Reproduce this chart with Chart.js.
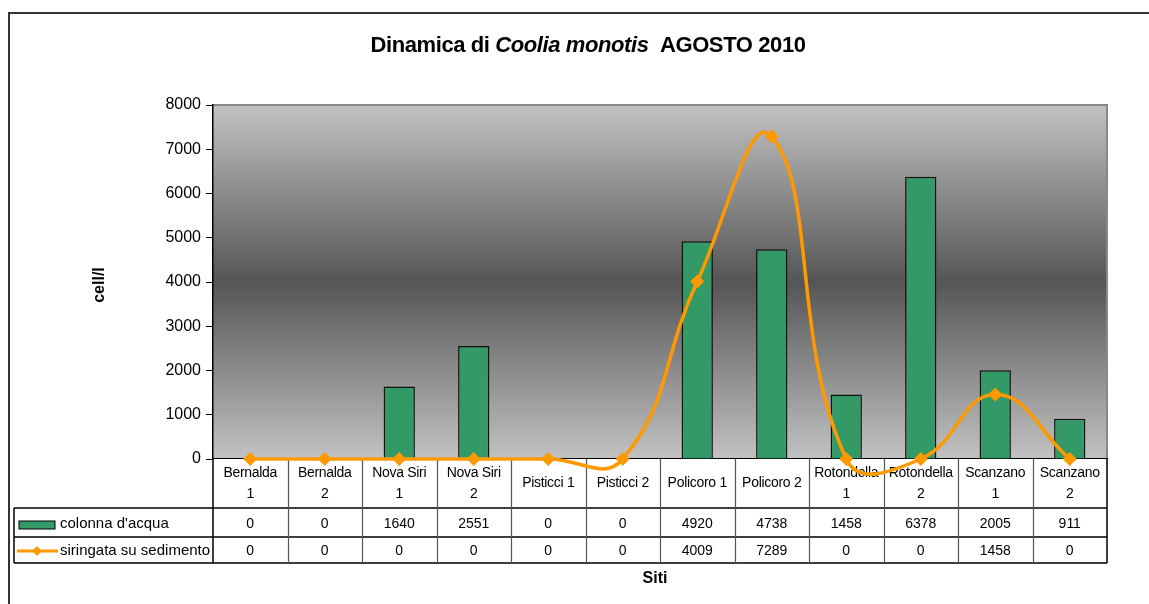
<!DOCTYPE html>
<html>
<head>
<meta charset="utf-8">
<script src="https://cdn.jsdelivr.net/npm/chart.js@4/dist/chart.umd.min.js"></script>
<style>
  html, body { margin: 0; padding: 0; background: #fff; }
</style>
</head>
<body>
<canvas id="siteChart" width="1149" height="604"></canvas>
<script>
// data
var sites = [["Bernalda", "1"], ["Bernalda", "2"], ["Nova Siri", "1"], ["Nova Siri", "2"],
  ["Pisticci 1"], ["Pisticci 2"], ["Policoro 1"], ["Policoro 2"],
  ["Rotondella", "1"], ["Rotondella", "2"], ["Scanzano", "1"], ["Scanzano", "2"]];
var colonna = [0, 0, 1640, 2551, 0, 0, 4920, 4738, 1458, 6378, 2005, 911];
var siringata = [0, 0, 0, 0, 0, 0, 4009, 7289, 0, 0, 1458, 0];
var seriesNames = ["colonna d'acqua", "siringata su sedimento"];
var yMax = 8000;
var yStep = 1000;

var FONT = "'Liberation Sans', Arial, sans-serif";
var GREEN = "#339966";
var ORANGE = "#FF9900";

// background gradient, frame, title, axis title and the data table
var decor = {
  id: 'decor',
  beforeDraw: function (chart) {
    var ctx = chart.ctx, a = chart.chartArea;
    ctx.save();
    var g = ctx.createLinearGradient(0, a.top, 0, a.bottom);
    g.addColorStop(0, "#c2c2c2");
    g.addColorStop(0.5, "#555555");
    g.addColorStop(1, "#c2c2c2");
    ctx.fillStyle = g;
    ctx.fillRect(a.left, a.top, a.right - a.left, a.bottom - a.top);
    ctx.strokeStyle = "#888";
    ctx.lineWidth = 2;
    ctx.beginPath();
    ctx.moveTo(a.left, a.top);
    ctx.lineTo(a.right, a.top);
    ctx.lineTo(a.right, a.bottom);
    ctx.stroke();

    // outer frame
    ctx.strokeStyle = "#333";
    ctx.lineWidth = 2;
    ctx.beginPath();
    ctx.moveTo(9, 604);
    ctx.lineTo(9, 13);
    ctx.lineTo(1149, 13);
    ctx.stroke();

    // title with italic species name
    var parts = [["Dinamica di ", "bold"], ["Coolia monotis", "italic bold"], ["  AGOSTO 2010", "bold"]];
    ctx.letterSpacing = "-0.4px";
    var total = 0;
    parts.forEach(function (p) {
      ctx.font = p[1] + " 22px " + FONT;
      total += ctx.measureText(p[0]).width;
    });
    var x = 588 - total / 2;
    ctx.fillStyle = "#000";
    ctx.textBaseline = "middle";
    ctx.textAlign = "left";
    parts.forEach(function (p) {
      ctx.font = p[1] + " 22px " + FONT;
      ctx.fillText(p[0], x, 46);
      x += ctx.measureText(p[0]).width;
    });
    ctx.letterSpacing = "0px";

    // y axis title
    ctx.save();
    ctx.translate(100, 285);
    ctx.rotate(-Math.PI / 2);
    ctx.font = "bold 16px " + FONT;
    ctx.textAlign = "center";
    ctx.fillText("cell/l", 0, 0);
    ctx.restore();

    // x axis title
    ctx.font = "bold 16px " + FONT;
    ctx.textAlign = "center";
    ctx.fillText("Siti", 655, 579);
    ctx.restore();
  },
  beforeDatasetsDraw: function (chart) {
    var ctx = chart.ctx, a = chart.chartArea, xs = chart.scales.x;
    var n = sites.length;
    var w = (a.right - a.left) / n;
    var top = a.bottom, r1 = 508, r2 = 537, bot = 563, legL = 14;
    ctx.save();
    ctx.fillStyle = "#fff";
    ctx.fillRect(a.left, top, a.right - a.left, bot - top);

    ctx.strokeStyle = "#000";
    ctx.lineWidth = 1.5;
    ctx.beginPath();
    ctx.moveTo(legL, r1); ctx.lineTo(a.right, r1);
    ctx.moveTo(legL, r2); ctx.lineTo(a.right, r2);
    ctx.moveTo(legL, bot); ctx.lineTo(a.right, bot);
    ctx.moveTo(legL, r1); ctx.lineTo(legL, bot);
    ctx.moveTo(a.left, top); ctx.lineTo(a.left, bot);
    ctx.moveTo(a.right, top); ctx.lineTo(a.right, bot);
    ctx.stroke();
    ctx.strokeStyle = "#555";
    ctx.lineWidth = 1.2;
    ctx.beginPath();
    for (var i = 1; i < n; i++) {
      var bx = Math.round(a.left + i * w) + 0.5;
      ctx.moveTo(bx, top); ctx.lineTo(bx, bot);
    }
    ctx.stroke();

    ctx.fillStyle = "#000";
    ctx.font = "14px " + FONT;
    ctx.textAlign = "center";
    ctx.textBaseline = "middle";
    for (var j = 0; j < n; j++) {
      var cx = xs.getPixelForValue(j);
      ctx.letterSpacing = "-0.3px";
      if (sites[j].length === 2) {
        ctx.fillText(sites[j][0], cx, 473);
        ctx.fillText(sites[j][1], cx, 494);
      } else {
        ctx.fillText(sites[j][0], cx, 483);
      }
      ctx.letterSpacing = "0px";
      ctx.fillText(String(colonna[j]), cx, 524);
      ctx.fillText(String(siringata[j]), cx, 551);
    }

    // legend keys in the table
    ctx.textAlign = "left";
    ctx.fillStyle = GREEN;
    ctx.fillRect(19, 521, 36, 8);
    ctx.strokeStyle = "#000";
    ctx.lineWidth = 1;
    ctx.strokeRect(19, 521, 36, 8);
    ctx.strokeStyle = ORANGE;
    ctx.lineWidth = 3;
    ctx.beginPath();
    ctx.moveTo(17, 551); ctx.lineTo(58, 551);
    ctx.stroke();
    ctx.fillStyle = ORANGE;
    ctx.beginPath();
    ctx.moveTo(37, 546); ctx.lineTo(42, 551); ctx.lineTo(37, 556); ctx.lineTo(32, 551);
    ctx.closePath();
    ctx.fill();
    ctx.fillStyle = "#000";
    ctx.font = "15px " + FONT;
    ctx.fillText(seriesNames[0], 60, 524);
    ctx.fillText(seriesNames[1], 60, 551);
    ctx.restore();
  }
};

var labels = sites.map(function (s) { return s.join(" "); });

var config = {
  type: 'bar',
  data: {
    labels: labels,
    datasets: [{
      type: 'line',
      label: seriesNames[1],
      data: siringata,
      borderColor: ORANGE,
      backgroundColor: ORANGE,
      borderWidth: 3.5,
      tension: 0.45,
      capBezierPoints: false,
      pointStyle: 'rectRot',
      pointRadius: 7,
      pointBorderWidth: 0,
      clip: false,
      order: 0
    }, {
      type: 'bar',
      label: seriesNames[0],
      data: colonna,
      backgroundColor: GREEN,
      borderColor: "#111",
      borderWidth: 1.5,
      barPercentage: 0.42,
      categoryPercentage: 1,
      order: 1
    }]
  },
  options: {
    responsive: false,
    animation: false,
    layout: { padding: { left: 0, right: 42, top: 105, bottom: 0 } },
    plugins: {
      legend: { display: false },
      title: { display: false },
      tooltip: { enabled: false }
    },
    scales: {
      x: {
        grid: { display: false },
        border: { display: true, color: "#000", width: 1.5 },
        ticks: { display: false },
        afterFit: function (scale) { scale.height = 145; }
      },
      y: {
        min: 0,
        max: yMax,
        grid: { drawOnChartArea: false, tickLength: 7, color: "#000", tickColor: "#000" },
        border: { display: true, color: "#000", width: 1.5 },
        ticks: {
          stepSize: yStep,
          color: "#000",
          padding: 5,
          font: { family: FONT, size: 16 },
          callback: function (v) { return String(v); }
        },
        afterFit: function (scale) { scale.width = 213; }
      }
    }
  },
  plugins: [decor]
};

var ctx = document.getElementById("siteChart");
new Chart(ctx, config);
</script>
</body>
</html>
